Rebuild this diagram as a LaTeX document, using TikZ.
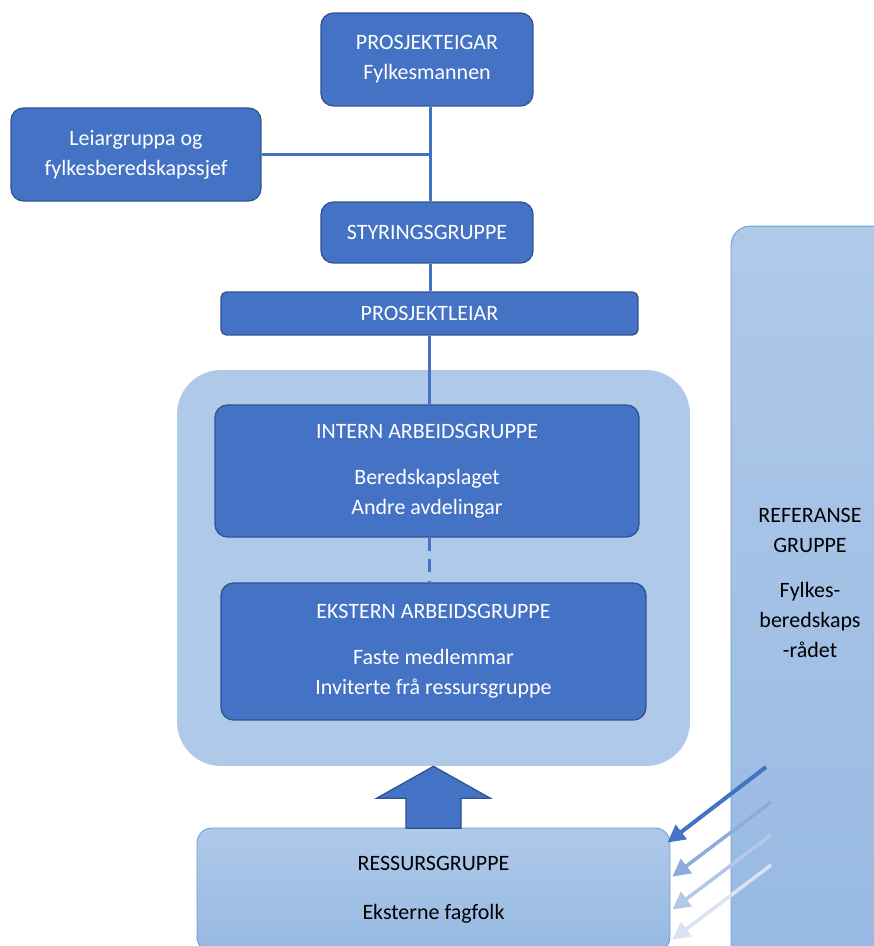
\documentclass[tikz,border=0pt]{standalone}
\usepackage{fontspec}
\setmainfont{Carlito}
\usetikzlibrary{positioning, arrows.meta, calc}

\definecolor{accentblue}{HTML}{4472C4}
\definecolor{accentdark}{HTML}{2F528F}
\definecolor{paleblue}{HTML}{AFCAE9}
\definecolor{deepsoft}{HTML}{96B8E2}
\definecolor{edgeblue}{HTML}{6C9BD6}

\begin{document}
\begin{tikzpicture}[
    x=0.02cm, y=-0.02cm,
    font=\fontsize{12.5}{17}\selectfont,
    % dark boxes of the hierarchy
    orgbox/.style={draw=accentdark, fill=accentblue, line width=0.7pt, rectangle, rounded corners=7pt, align=center, text=white, inner sep=0pt},
    % pale group boxes
    teambox/.style={fill=paleblue, rectangle, rounded corners=25pt, inner sep=0pt},
    softbox/.style={draw=edgeblue, line width=0.5pt, top color=paleblue, bottom color=deepsoft, rectangle, align=center, inner sep=0pt},
    % connectors
    link_line/.style={draw=accentblue, line width=1.4pt},
    feed_arrow/.style={-{Triangle[length=10pt,width=10pt]}, line width=2pt},
    block_arrow/.style={draw=accentdark, fill=accentblue, line width=0.7pt, line join=miter}
]
    \useasboundingbox (0,0) rectangle (874,946);
    \clip (0,0) rectangle (874,946);

    % ==================== Top of the hierarchy ====================
    \node (own) at (427,59.5) [orgbox, minimum width=4.24cm, minimum height=1.86cm] {PROSJEKTEIGAR\\Fylkesmannen};
    \node (leiar) at (136,154.5) [orgbox, minimum width=5.0cm, minimum height=1.86cm] {Leiargruppa og\\fylkesberedskapssjef};
    \node (sty) at (427,232.5) [orgbox, minimum width=4.24cm, minimum height=1.22cm] {STYRINGSGRUPPE};
    \node (pl) at (429.5,313.5) [orgbox, rounded corners=3pt, minimum width=8.34cm, minimum height=0.86cm] {PROSJEKTLEIAR};

    \draw [link_line] ([xshift=2pt]own.south) -- ([xshift=2pt]sty.north);
    \draw [link_line] (leiar.east) -- ([xshift=2pt]own.south |- leiar.east);
    \draw [link_line] ([xshift=2pt]sty.south) -- ([xshift=2pt]sty.south |- pl.north);

    % ==================== Working groups ====================
    \node (team) at (433.5,568) [teambox, minimum width=10.26cm, minimum height=7.92cm] {};
    \node (intern) at (427,471) [orgbox, minimum width=8.48cm, minimum height=2.64cm] {INTERN ARBEIDSGRUPPE\\[9pt]Beredskapslaget\\Andre avdelingar};
    \node (ekstern) at (433.5,651.5) [orgbox, minimum width=8.5cm, minimum height=2.74cm] {EKSTERN ARBEIDSGRUPPE\\[9pt]Faste medlemmar\\Inviterte frå ressursgruppe};

    \draw [link_line] (pl.south) -- (pl.south |- intern.north);
    \draw [link_line, dash pattern=on 7.4pt off 5pt] (pl.south |- intern.south) -- (pl.south |- ekstern.north);

    % ==================== Resources and reference group ====================
    \node (ressurs) at (433.5,890) [softbox, rounded corners=8.5pt, minimum width=9.46cm, minimum height=2.48cm] {RESSURSGRUPPE\\[11pt]Eksterne fagfolk};
    \node (refgr) at (831,613) [softbox, rounded corners=11pt, minimum width=4.0cm, minimum height=15.48cm] {};
    \node (reftxt) at (810,583) [align=center] {REFERANSE\\GRUPPE\\[9pt]Fylkes-\\beredskaps\\-rådet};

    % Block arrow from resources up into the groups
    \draw [block_arrow] (team.south) -- ++(57,32) -- ++(-29.5,0) -- ++(0,30) -- ++(-55,0) -- ++(0,-30) -- ++(-29.5,0) -- cycle;

    % Fading arrows from the reference group
    \coordinate (src1) at (766,767);
    \coordinate (src2) at (771,802);
    \coordinate (src3) at (771,835);
    \coordinate (src4) at (771,865);
    \coordinate (in1) at ($(ressurs.north east)+(-3,15)$);
    \coordinate (in2) at ($(ressurs.north east)+(2,49)$);
    \coordinate (in3) at ($(ressurs.north east)+(2,82)$);
    \coordinate (in4) at ($(ressurs.north east)+(2,112)$);

    \draw [feed_arrow, draw=accentblue, line width=2.3pt] (src1) -- (in1);
    \draw [feed_arrow, draw={rgb,255:red,143;green,170;blue,220}] (src2) -- (in2);
    \draw [feed_arrow, draw={rgb,255:red,180;green,199;blue,231}] (src3) -- (in3);
    \draw [feed_arrow, draw={rgb,255:red,218;green,227;blue,243}] (src4) -- (in4);

\end{tikzpicture}
\end{document}
